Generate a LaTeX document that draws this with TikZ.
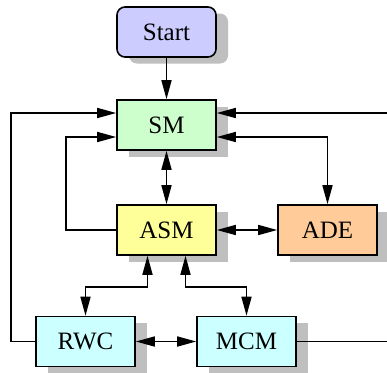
\documentclass[tikz,border=0pt]{standalone}
\usepackage{fontspec}
\setmainfont{Liberation Serif}
\usepackage{xcolor}
\usepackage{tikz}
\usetikzlibrary{arrows.meta,shadows}

\definecolor{startfill}{HTML}{CCCCFF}
\definecolor{smfill}{HTML}{CCFFCC}
\definecolor{asmfill}{HTML}{FFFF99}
\definecolor{adefill}{HTML}{FFCC99}
\definecolor{cyanfill}{HTML}{CCFFFF}

\begin{document}
\begin{tikzpicture}[x=1pt, y=-1pt, >={Triangle[length=19pt,width=10pt]}, line join=miter,
  block/.style={draw, line width=1.6pt, minimum width=99pt, minimum height=50pt, inner sep=0pt,
    font=\fontsize{25}{29}\selectfont,
    drop shadow={shadow xshift=12pt, shadow yshift=-6.5pt, fill=black!25, opacity=1}},
  link/.style={line width=1.6pt}]
  \useasboundingbox (0,0) rectangle (387,372);
  \node[block, rounded corners=8pt, fill=startfill] (start) at (166.5,32) {Start};
  \node[block, fill=smfill] (sm) at (166.5,125) {SM};
  \node[block, fill=asmfill] (asm) at (166.5,230) {ASM};
  \node[block, fill=adefill] (ade) at (327.5,230) {ADE};
  \node[block, fill=cyanfill] (rwc) at (85.5,341.5) {RWC};
  \node[block, fill=cyanfill] (mcm) at (246.5,341.5) {MCM};
  % straight links
  \draw[link,->] (start) -- (sm);
  \draw[link,<->] (sm) -- (asm);
  \draw[link,<->] (asm) -- (ade);
  \draw[link,<->] (rwc) -- (mcm);
  % feedback links to SM
  \draw[link,->] (rwc.west) -- ++(-24,0) |- ([yshift=12pt]sm.west);
  \draw[link,->] (asm.west) -- ++(-50,0) |- ([yshift=-12pt]sm.west);
  \draw[link,->] (mcm.east) -- (392,341.5) |- ([yshift=12pt]sm.east);
  \draw[link,<->] ([yshift=-12pt]sm.east) -| (ade.north);
  % links below ASM
  \draw[link,<->] ([xshift=-19pt]asm.south) -- ++(0,31) -| (rwc.north);
  \draw[link,<->] ([xshift=19pt]asm.south) -- ++(0,31) -| (mcm.north);
\end{tikzpicture}
\end{document}
